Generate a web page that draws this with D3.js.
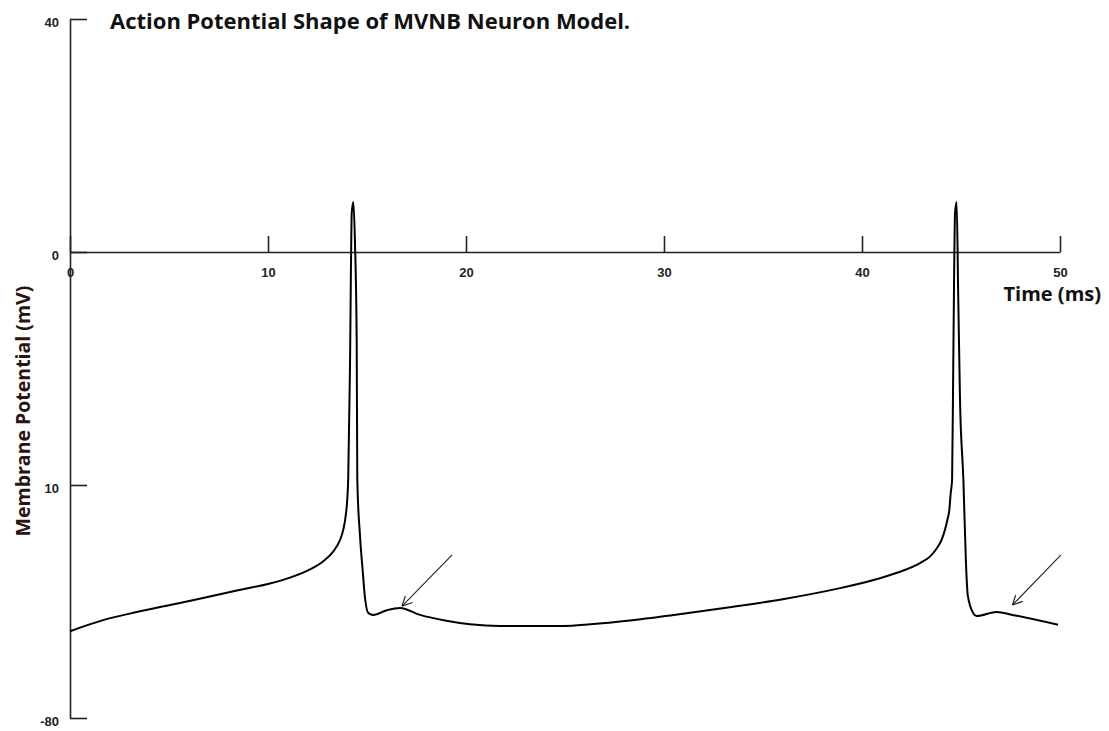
<!DOCTYPE html>
<html>
<head>
<meta charset="utf-8">
<script src="https://cdn.jsdelivr.net/npm/d3@7"></script>
<style>
  body { margin: 0; background: #fff; }
  svg { display: block; }
  .tick text { font-family: "Liberation Sans", Arial, sans-serif; font-weight: bold; font-size: 13px; fill: #222; }
</style>
</head>
<body>
<svg id="chart" width="1109" height="731"></svg>
<script>
'use strict';

// simulated membrane potential
var timeMs = [0, 1.67, 3.38, 5.05, 6.72, 8.43, 10.1, 11.11, 12.12, 12.79, 13.3, 13.64, 13.8, 13.92, 14.0, 14.05,
    14.14, 14.23, 14.31, 14.39, 14.48, 14.51, 14.65, 14.78, 14.9, 15.07, 15.32, 16.0, 16.67, 17.68, 19.0, 20.2,
    21.7, 24.9, 26.3, 28.4, 30.96, 33.5, 36.0, 38.89, 39.9, 40.91, 41.92, 42.93, 43.43, 43.77, 44.02, 44.19,
    44.31, 44.41, 44.48, 44.55, 44.61, 44.7, 44.78, 44.86, 44.95, 45.12, 45.25, 45.34, 45.62, 45.79, 46.8,
    47.6, 49.9];
var voltage = [-65.1, -63.2, -61.8, -60.6, -59.4, -58.1, -56.9, -55.9, -54.5, -53.1, -51.4, -49.4, -47.7, -45.4, -42.6, -39.1,
    -19.7, 6.7, 8.6, 2.0, -15.6, -39.1, -48.9, -54.6, -59.4, -62.0, -62.3, -61.5, -61.1, -62.3, -63.3, -63.9,
    -64.2, -64.2, -63.9, -63.2, -62.1, -60.9, -59.6, -57.7, -56.9, -56.0, -54.9, -53.4, -52.3, -50.9, -49.4, -47.7,
    -46.0, -44.3, -41.4, -39.1, -19, 6.7, 8.6, -7.6, -25.4, -39.1, -53.4, -58.9, -62.0, -62.5, -61.8,
    -62.3, -64.0];

var xTicks = [0, 10, 20, 30, 40, 50];
var yTicks = [40, 0, -40, -80];
var yTickLabels = ["40", "0", "10", "-80"];

// arrows pointing at the after-depolarisation bumps: [tailT, tailV, tipT, tipV]
var arrows = [
    [19.3, -52.0, 16.77, -60.8],
    [50.05, -52.0, 47.6, -60.6]
];

var svg = d3.select("#chart");

var x = d3.scaleLinear().domain([0, 50]).range([70, 1060]);
var y = d3.scaleLinear().domain([-80, 40]).range([718, 19]);

svg.append("defs").append("marker")
    .attr("id", "head")
    .attr("viewBox", "0 0 10 10")
    .attr("refX", 10).attr("refY", 5)
    .attr("markerWidth", 10).attr("markerHeight", 10)
    .attr("markerUnits", "userSpaceOnUse")
    .attr("orient", "auto")
  .append("path")
    .attr("d", "M0,0 L10,5 L0,10")
    .style("fill", "none")
    .style("stroke", "#222")
    .style("stroke-width", 1.2);

// y axis: ticks point inward, labels on the outside
var yAxis = d3.axisLeft(y)
    .tickValues(yTicks)
    .tickFormat(function(d, i) { return yTickLabels[i]; })
    .tickSizeInner(-17)
    .tickSizeOuter(0)
    .tickPadding(11);

svg.append("g")
    .attr("transform", "translate(" + x(0) + ",0)")
    .call(yAxis)
    .call(function(g) {
        g.selectAll("path, line").style("stroke", "#222").style("stroke-width", 1.6);
        g.selectAll("text").attr("dy", "0.55em");
    });

var xAxis = d3.axisBottom(x)
    .tickValues(xTicks)
    .tickSizeInner(-16)
    .tickSizeOuter(0)
    .tickPadding(16);

svg.append("g")
    .attr("transform", "translate(0," + y(0) + ")")
    .call(xAxis)
    .call(function(g) {
        g.selectAll("path, line").style("stroke", "#222").style("stroke-width", 1.6);
    });

var line = d3.line()
    .x(function(d, i) { return x(timeMs[i]); })
    .y(function(d) { return y(d); })
    .curve(d3.curveMonotoneX);

svg.append("path")
    .datum(voltage)
    .attr("d", line)
    .style("fill", "none")
    .style("stroke", "#000")
    .style("stroke-width", 2);

svg.selectAll(".arrow")
    .data(arrows)
  .enter().append("line")
    .attr("class", "arrow")
    .attr("x1", function(d) { return x(d[0]); })
    .attr("y1", function(d) { return y(d[1]); })
    .attr("x2", function(d) { return x(d[2]); })
    .attr("y2", function(d) { return y(d[3]); })
    .style("stroke", "#222")
    .style("stroke-width", 1.1)
    .attr("marker-end", "url(#head)");

svg.append("text")
    .attr("x", 110).attr("y", 29)
    .style("font-family", "'Open Sans', sans-serif")
    .style("font-weight", "bold")
    .style("font-size", "22px")
    .style("fill", "#111")
    .text("Action Potential Shape of MVNB Neuron Model.");

svg.append("text")
    .attr("x", 1101).attr("y", 301)
    .style("text-anchor", "end")
    .style("font-family", "'Open Sans', sans-serif")
    .style("font-weight", "bold")
    .style("font-size", "20px")
    .style("fill", "#111")
    .text("Time (ms)");

svg.append("text")
    .attr("transform", "translate(30,411) rotate(-90)")
    .style("text-anchor", "middle")
    .style("font-family", "'Open Sans', sans-serif")
    .style("font-weight", "bold")
    .style("font-size", "19.5px")
    .style("fill", "#2a1410")
    .text("Membrane Potential (mV)");
</script>
</body>
</html>
